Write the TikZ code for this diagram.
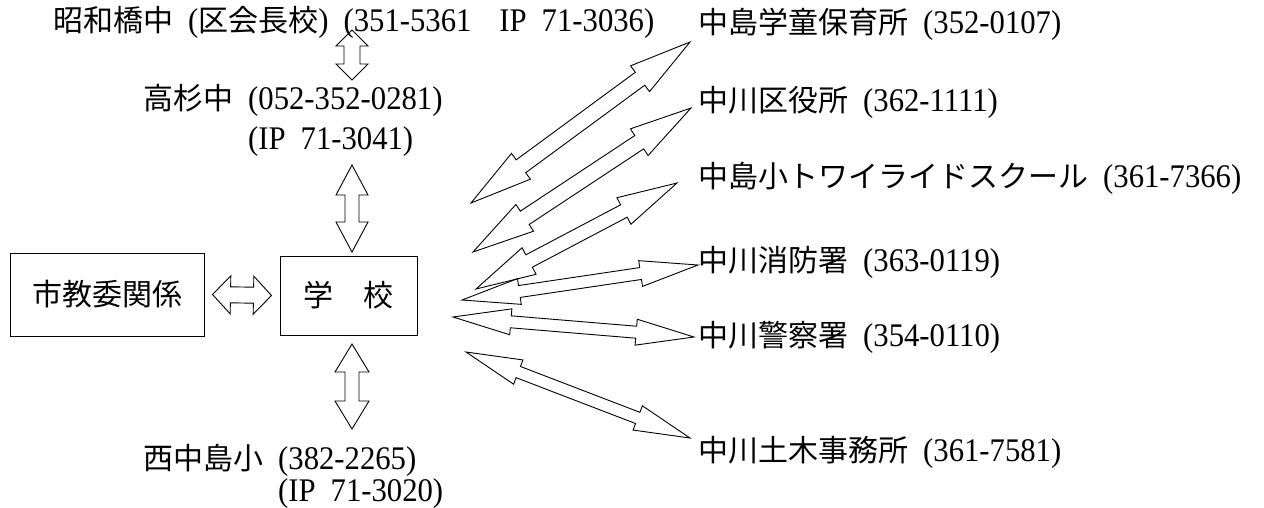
\documentclass[tikz,border=0pt]{standalone}
\usepackage{fontspec}
\setmainfont{Liberation Serif}[Scale=1.1, FakeStretch=0.93]
\newfontfamily\jp{Noto Sans CJK JP}
\usetikzlibrary{calc}
\newcommand\jgap{\hspace{15pt}}
% double-headed outline arrow between two named coordinates
% #1 start, #2 end, #3 head length, #4 head half width, #5 shaft half width
\newcommand\dblarrow[5]{%
  \path let \p1=(#1), \p2=(#2) in \pgfextra{%
    \pgfmathsetmacro\tmpang{atan2(\y2-\y1,\x2-\x1)}%
    \pgfmathsetmacro\tmplen{veclen(\x2-\x1,\y2-\y1)}%
    \xdef\arrang{\tmpang}\xdef\arrlen{\tmplen}};
  \pgfmathsetmacro\arrb{\arrlen-#3}%
  \draw[dblarr, shift={(#1)}, rotate=\arrang]
    (0pt,0pt) -- (#3pt,#4pt) -- (#3pt,#5pt) -- (\arrb pt,#5pt) -- (\arrb pt,#4pt)
    -- (\arrlen pt,0pt) -- (\arrb pt,-#4pt) -- (\arrb pt,-#5pt) -- (#3pt,-#5pt)
    -- (#3pt,-#4pt) -- cycle;
}
\begin{document}
\begin{tikzpicture}[x=1pt,y=-1pt,
  lbl/.style={anchor=west, inner sep=0pt, text height=24pt, text depth=2pt,
    font=\fontsize{30}{34}\selectfont},
  boxnode/.style={draw, line width=1pt, inner sep=0pt, text height=24pt, text depth=2pt,
    font=\fontsize{30}{34}\selectfont},
  dblarr/.style={draw=black, line width=0.9pt, line join=miter}]
\useasboundingbox (0,0) rectangle (1264,507);

% left column
\node[lbl] (t1) at (53,20) {{\jp 昭和橋中}\jgap({\jp 区会長校})\jgap(351-5361\hspace{28pt}IP\jgap 71-3036)};
\node[lbl] (t2) at (143,98) {{\jp 高杉中}\jgap(052-352-0281)};
\node[lbl] (t2b) at (143,138) {\hphantom{{\jp 高杉中}\jgap}(IP\jgap 71-3041)};
\node[boxnode, minimum width=194pt, minimum height=83pt] (kyoi) at (107,294.5) {{\jp 市教委関係}};
\node[boxnode, minimum width=137pt, minimum height=79pt] (school) at (348.5,295.5) {{\jp 学　校}};
\node[lbl] (t3) at (143,458) {{\jp 西中島小}\jgap(382-2265)};
\node[lbl] (t3b) at (143,490) {\hphantom{{\jp 西中島小}\jgap}(IP\jgap 71-3020)};

% right column
\node[lbl] (r1) at (698,22) {{\jp 中島学童保育所}\jgap(352-0107)};
\node[lbl] (r2) at (698,100) {{\jp 中川区役所}\jgap(362-1111)};
\node[lbl] (r3) at (698,176) {{\jp 中島小トワイライドスクール}\jgap(361-7366)};
\node[lbl] (r4) at (698,260) {{\jp 中川消防署}\jgap(363-0119)};
\node[lbl] (r5) at (698,335) {{\jp 中川警察署}\jgap(354-0110)};
\node[lbl] (r6) at (698,450) {{\jp 中川土木事務所}\jgap(361-7581)};

% arrow end points
\coordinate (v1s) at (352,30);  \coordinate (v1e) at (352,80);
\coordinate (v2s) at (352,165); \coordinate (v2e) at (352,252);
\coordinate (v3s) at (352,344); \coordinate (v3e) at (352,429);
\coordinate (h1s) at ([xshift=8pt]kyoi.east);
\coordinate (h1e) at ([xshift=-8pt]school.west);
\coordinate (a1s) at (471,203); \coordinate (a1e) at (690,42);
\coordinate (a2s) at (473,252); \coordinate (a2e) at (691,108);
\coordinate (a3s) at (476,289); \coordinate (a3e) at (677,183);
\coordinate (a4s) at (462,300); \coordinate (a4e) at (698,265);
\coordinate (a5s) at (453,317); \coordinate (a5e) at (694,337);
\coordinate (a6s) at (466,352); \coordinate (a6e) at (690,438);

\dblarrow{v1s}{v1e}{16}{16}{8}
\dblarrow{v2s}{v2e}{30}{16}{7}
\dblarrow{v3s}{v3e}{28}{17}{7}
\dblarrow{h1s}{h1e}{18}{19}{8}
\dblarrow{a1s}{a1e}{62}{16}{8}
\dblarrow{a2s}{a2e}{62}{16}{8}
\dblarrow{a3s}{a3e}{60}{15}{7}
\dblarrow{a4s}{a4e}{58}{13}{6}
\dblarrow{a5s}{a5e}{58}{13}{6}
\dblarrow{a6s}{a6e}{56}{13}{6}
\end{tikzpicture}
\end{document}
